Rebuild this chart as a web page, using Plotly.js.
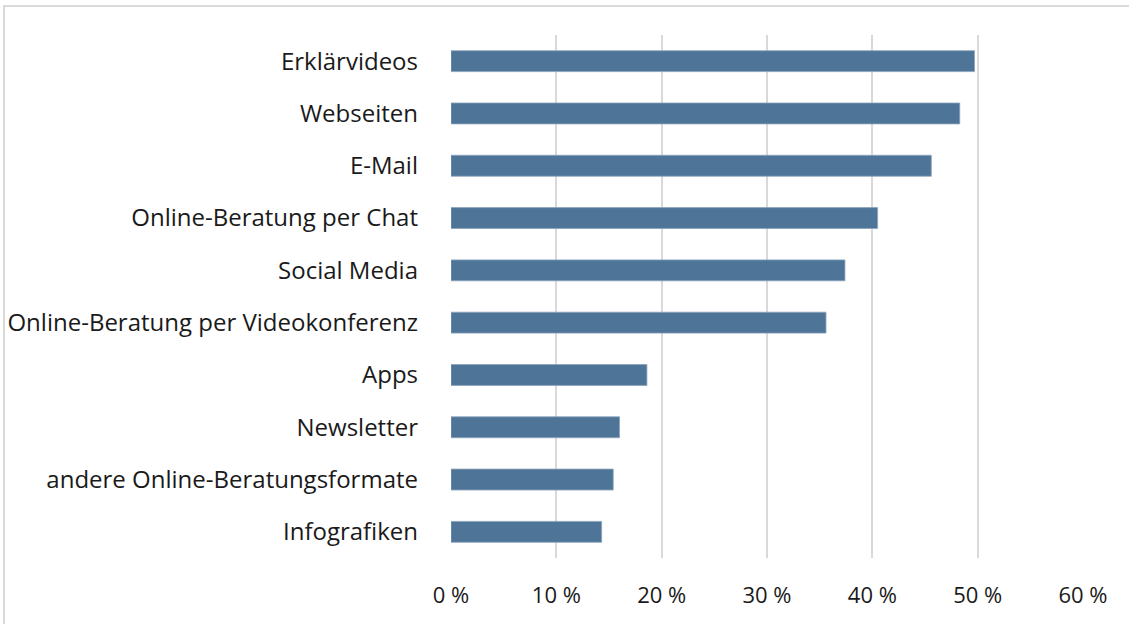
<!DOCTYPE html>
<html>
<head>
<meta charset="utf-8">
<script src="https://cdn.plot.ly/plotly-3.0.1.min.js"></script>
<style>
html,body{margin:0;padding:0;background:#fff;overflow:hidden;}
#chart{width:1129px;height:624px;position:absolute;left:0;top:0;}
#frame{position:absolute;left:3px;top:5px;width:1140px;height:640px;border:2px solid #d9d9d9;pointer-events:none;box-sizing:border-box;}
</style>
</head>
<body>
<div id="chart"></div>
<div id="frame"></div>
<script>
const categories = [
  "Erklärvideos",
  "Webseiten",
  "E-Mail",
  "Online-Beratung per Chat",
  "Social Media",
  "Online-Beratung per Videokonferenz",
  "Apps",
  "Newsletter",
  "andere Online-Beratungsformate",
  "Infografiken"
];
const values = [49.7, 48.3, 45.6, 40.5, 37.4, 35.6, 18.6, 16.0, 15.4, 14.3];
const xTickValues = [0, 10, 20, 30, 40, 50, 60];
const xTickLabels = ["0 %", "10 %", "20 %", "30 %", "40 %", "50 %", "60 %"];

const trace = {
  type: "bar",
  orientation: "h",
  y: categories,
  x: values,
  marker: {color: "#4e7598", line: {color: "#8aa3bb", width: 0.8}},
  hoverinfo: "x+y"
};

const layout = {
  width: 1129,
  height: 624,
  margin: {l: 451, r: 46, t: 35, b: 66},
  paper_bgcolor: "#ffffff",
  plot_bgcolor: "#ffffff",
  bargap: 0.6,
  showlegend: false,
  font: {family: "'Open Sans', sans-serif", size: 22, color: "#1a1a1a"},
  xaxis: {
    range: [0, 60],
    tickmode: "array",
    tickvals: xTickValues,
    ticktext: xTickLabels,
    showgrid: true,
    gridcolor: "#d9d9d9",
    gridwidth: 2,
    zeroline: false,
    showline: false,
    ticks: "",
    ticklabelstandoff: 22,
    tickfont: {size: 22, color: "#1a1a1a"},
    fixedrange: true
  },
  yaxis: {
    autorange: "reversed",
    type: "category",
    showgrid: false,
    zeroline: false,
    showline: false,
    ticks: "",
    ticklabelstandoff: 32,
    tickfont: {size: 24, color: "#1a1a1a"},
    fixedrange: true
  }
};

Plotly.newPlot("chart", [trace], layout, {displayModeBar: false, staticPlot: true});
</script>
</body>
</html>
